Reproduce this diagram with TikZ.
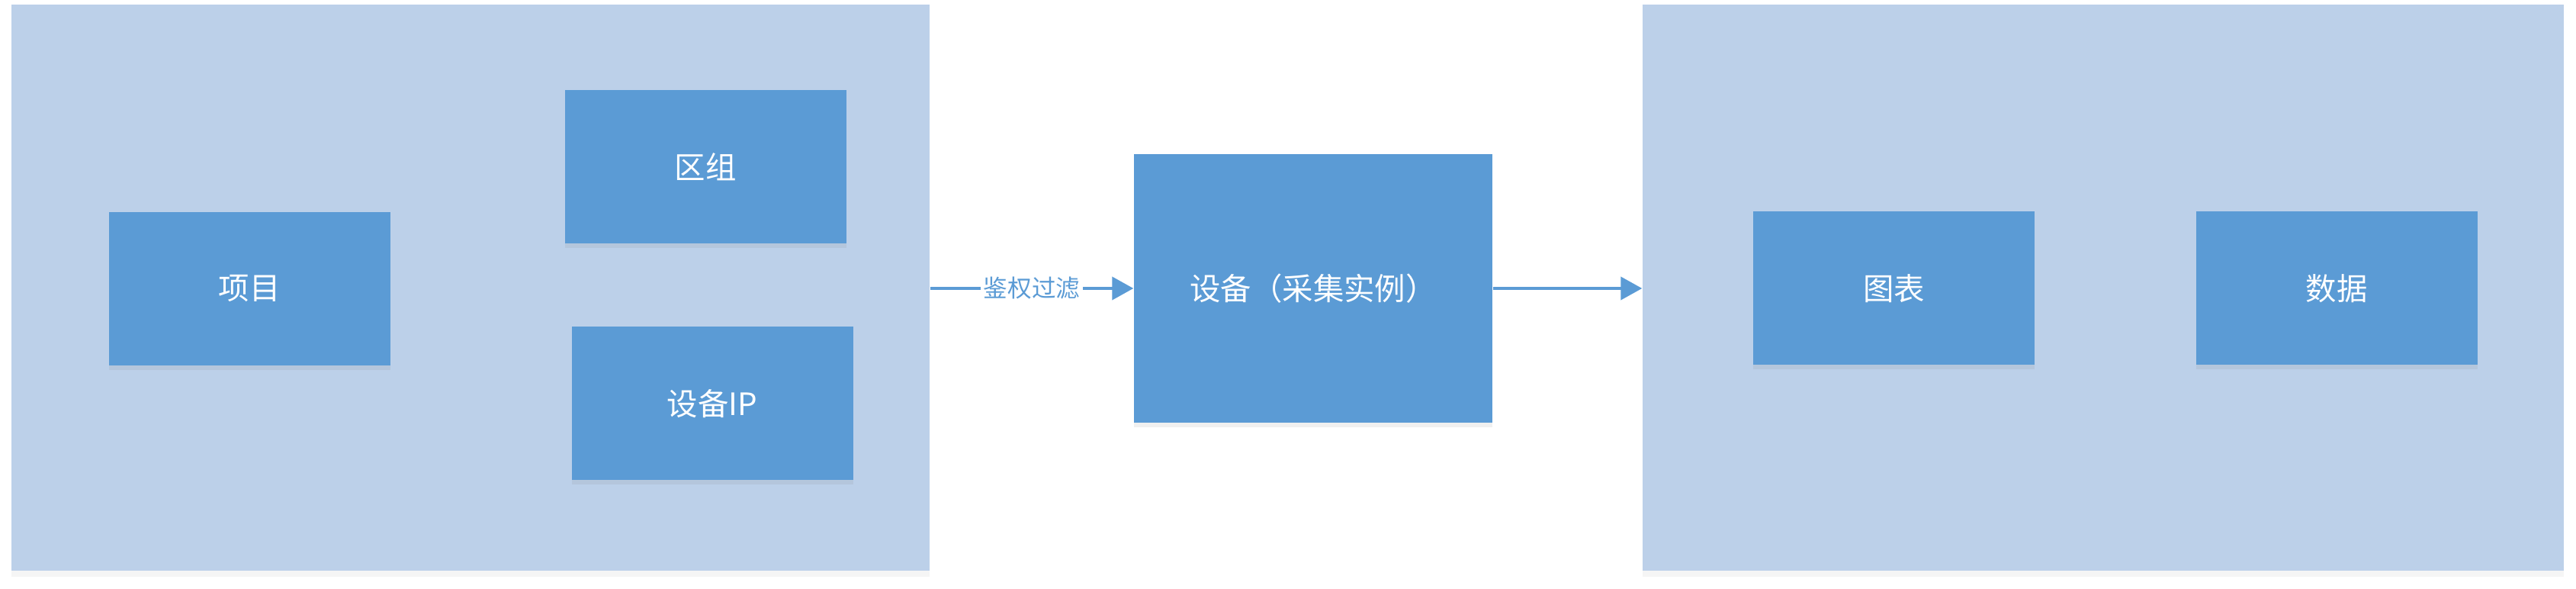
\documentclass[tikz,border=0pt]{standalone}
\usepackage{fontspec}
\setmainfont{Noto Sans CJK SC}
\usepackage{xcolor}
\usetikzlibrary{arrows.meta,shadows}

\definecolor{panelblue}{HTML}{BCD0E9}
\definecolor{boxblue}{HTML}{5B9BD5}

\begin{document}
\begin{tikzpicture}[>={Triangle[length=0.28cm, width=0.3cm]},
    panel/.style={fill=panelblue, draw=none, inner sep=0pt, minimum height=7.42cm,
      drop shadow={opacity=0.08, shadow xshift=0cm, shadow yshift=-0.08cm}},
    item/.style={fill=boxblue, draw=none, text=white, font=\fontsize{11.5}{14}\selectfont,
      inner sep=0pt, minimum width=3.69cm, minimum height=2.01cm,
      drop shadow={opacity=0.12, shadow xshift=0cm, shadow yshift=-0.06cm}},
    link/.style={->, boxblue, line width=1.1pt}]
      \useasboundingbox (0, 0) rectangle (33.78, -7.72);

      % left and right areas
      \node[panel, minimum width=12.04cm] (left) at (6.17, -3.77) {};
      \node[panel, minimum width=12.08cm] (right) at (27.58, -3.77) {};

      \node[item] (proj) at (3.27, -3.785) {项目};
      \node[item] (zone) at (9.25, -2.185) {区组};
      \node[item] (ip) at (9.34, -5.29) {设备IP};

      \node[item, minimum width=4.70cm, minimum height=3.52cm] (dev) at (17.22, -3.78) {设备（采集实例）};

      \node[item] (chart) at (24.835, -3.78) {图表};
      \node[item] (data) at (30.64, -3.78) {数据};

      \draw[link] (left.east |- dev.west) -- (dev.west)
        node[midway, fill=white, inner sep=1pt, text=boxblue, font=\fontsize{9}{11}\selectfont] (auth) {鉴权过滤};
      \draw[link] (dev.east) -- (dev.east -| right.west);
    \end{tikzpicture}
\end{document}
